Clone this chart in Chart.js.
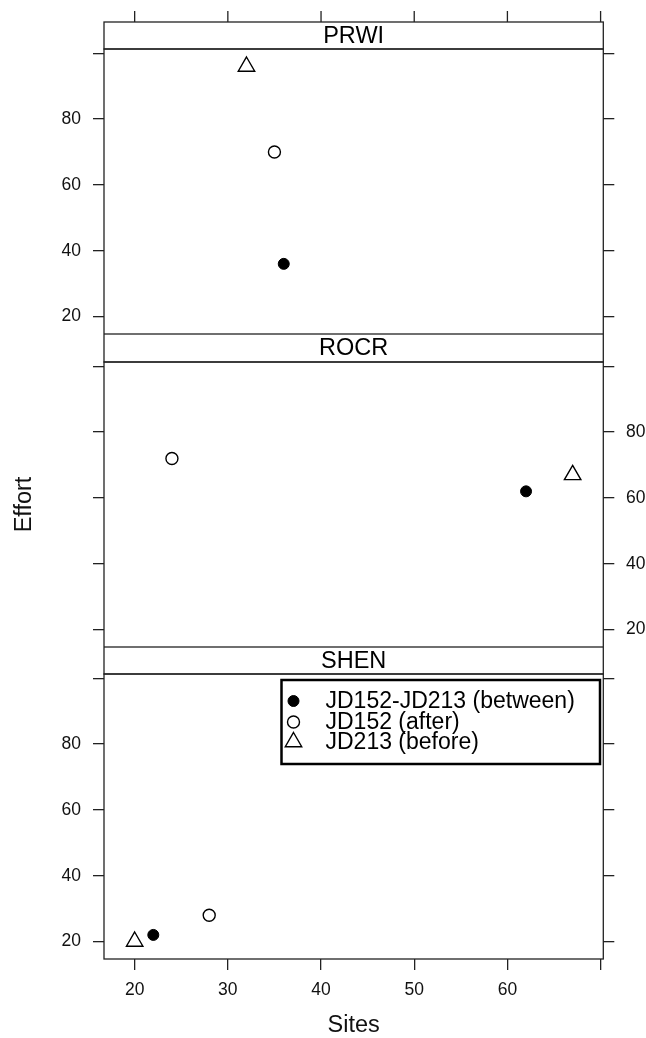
<!DOCTYPE html>
<html>
<head>
<meta charset="utf-8">
<script src="https://cdn.jsdelivr.net/npm/chart.js@4.4.0/dist/chart.umd.min.js"></script>
<style>
  body { margin: 0; background: #fff; }
  #wrap { position: relative; width: 646px; height: 1038px; }
  .panel { position: absolute; left: 0; width: 646px; }
</style>
</head>
<body>
<div id="wrap">
  <div class="panel" style="top:0;height:334px"><canvas id="c0"></canvas></div>
  <div class="panel" style="top:334px;height:313px"><canvas id="c1"></canvas></div>
  <div class="panel" style="top:647px;height:391px"><canvas id="c2"></canvas></div>
</div>
<script>
// panels (top to bottom) and series
const sites = ['PRWI', 'ROCR', 'SHEN'];
const seriesNames = ['JD152-JD213 (between)', 'JD152 (after)', 'JD213 (before)'];

// Sites (x) and Effort (y), one value per panel
const betweenX = [36, 62, 22];
const betweenY = [36, 62, 22];
const afterX = [35, 24, 28];
const afterY = [70, 72, 28];
const beforeX = [32, 67, 20];
const beforeY = [96, 67, 20];

const xTicks = [20, 30, 40, 50, 60, 70];
const xTickLabels = [20, 30, 40, 50, 60];
const yTicks = [20, 40, 60, 80, 100];
const yTickLabels = [20, 40, 60, 80];

const FONT = "'Liberation Sans', Arial, Helvetica, sans-serif";
const INK = '#222';
const BIG = 23.5;

// lattice style limits: data range padded by 7%
function padRange(a) {
  const lo = Math.min(...a), hi = Math.max(...a);
  const d = (hi - lo) * 0.07;
  return [lo - d, hi + d];
}
const xLim = padRange([...betweenX, ...afterX, ...beforeX]);
const yLim = padRange([...betweenY, ...afterY, ...beforeY]);

const styles = [
  { pointStyle: 'circle', radius: 5.5, bg: '#000', bw: 1 },
  { pointStyle: 'circle', radius: 6, bg: '#fff', bw: 1.4 },
  { pointStyle: 'triangle', radius: 9.5, bg: 'rgba(0,0,0,0)', bw: 1.4 }
];

function makeDatasets(i) {
  const xs = [betweenX, afterX, beforeX];
  const ys = [betweenY, afterY, beforeY];
  return seriesNames.map((name, k) => ({
    label: name,
    data: [{ x: xs[k][i], y: ys[k][i] }],
    pointStyle: styles[k].pointStyle,
    pointRadius: styles[k].radius,
    pointHoverRadius: styles[k].radius,
    pointBackgroundColor: styles[k].bg,
    pointBorderColor: '#000',
    pointBorderWidth: styles[k].bw,
    showLine: false
  }));
}

function gridOpts() {
  return { display: true, drawOnChartArea: false, drawTicks: true, tickLength: 11, color: INK, lineWidth: 1.3 };
}

function yAxis(pos, showLabels, title) {
  return {
    type: 'linear', position: pos, min: yLim[0], max: yLim[1],
    afterBuildTicks: s => { s.ticks = yTicks.map(v => ({ value: v })); },
    afterFit: s => {
      s.width = pos === 'left' ? 104 : 42.7;
      s.paddingTop = 0; s.paddingBottom = 0;
    },
    grid: gridOpts(),
    border: { display: false },
    ticks: {
      display: showLabels, autoSkip: false, color: '#111',
      padding: pos === 'left' ? 12 : 11.7,
      font: { family: FONT, size: 17.5 },
      callback: v => yTickLabels.includes(v) ? String(v) : ''
    },
    title: title ? { display: true, text: title, color: '#111', padding: { top: 13, bottom: 0 },
      font: { family: FONT, size: BIG, lineHeight: 1 } } : { display: false }
  };
}

// strip, panel frame, top ticks and key
const lattice = {
  id: 'lattice',
  afterDraw(chart, args, o) {
    const ctx = chart.ctx, ca = chart.chartArea, xs = chart.scales.x;
    ctx.save();
    ctx.strokeStyle = INK;
    ctx.lineWidth = 1.3;
    const sTop = ca.top - o.stripH;
    ctx.fillStyle = '#fff';
    ctx.fillRect(ca.left, sTop, ca.right - ca.left, o.stripH);
    ctx.strokeRect(ca.left, sTop, ca.right - ca.left, o.stripH);
    ctx.strokeRect(ca.left, ca.top, ca.right - ca.left, ca.bottom - ca.top);
    ctx.fillStyle = '#000';
    ctx.font = BIG + 'px ' + FONT;
    ctx.textAlign = 'center';
    ctx.textBaseline = 'middle';
    ctx.fillText(o.text, (ca.left + ca.right) / 2, sTop + o.stripH / 2 + 1);
    if (o.topTicks) {
      ctx.beginPath();
      xTicks.forEach(v => {
        const px = xs.getPixelForValue(v);
        ctx.moveTo(px, sTop);
        ctx.lineTo(px, sTop - 11);
      });
      ctx.stroke();
    }
    if (o.key) {
      const L = ca.left + 177.5, T = ca.top + 6, W = ca.right - 3.3 - L, H = 84;
      ctx.fillStyle = '#fff';
      ctx.fillRect(L, T, W, H);
      ctx.strokeStyle = '#000';
      ctx.lineWidth = 2.5;
      ctx.strokeRect(L, T, W, H);
      const rows = [21, 42, 62];
      chart.data.datasets.forEach((ds, k) => {
        const y = T + rows[k];
        ctx.fillStyle = ds.pointBackgroundColor;
        ctx.strokeStyle = '#000';
        ctx.lineWidth = ds.pointBorderWidth;
        Chart.helpers.drawPoint(ctx, { pointStyle: ds.pointStyle, radius: ds.pointRadius, borderWidth: ds.pointBorderWidth, rotation: 0 }, L + 12, y);
        ctx.fillStyle = '#000';
        ctx.textAlign = 'left';
        ctx.textBaseline = 'middle';
        ctx.font = '23px ' + FONT;
        ctx.fillText(ds.label, L + 44, y + 1);
      });
    }
    ctx.restore();
  }
};

const panels = [
  { id: 'c0', padTop: 49, stripH: 27, left: true, title: null, xAxis: false, topTicks: true, key: false },
  { id: 'c1', padTop: 28, stripH: 28, left: false, title: 'Effort', xAxis: false, topTicks: false, key: false },
  { id: 'c2', padTop: 27, stripH: 27, left: true, title: null, xAxis: true, topTicks: false, key: true }
];

panels.forEach((p, i) => {
  new Chart(document.getElementById(p.id), {
    type: 'scatter',
    data: { datasets: makeDatasets(i) },
    plugins: [lattice],
    options: {
      responsive: true,
      maintainAspectRatio: false,
      animation: false,
      events: [],
      layout: { autoPadding: false, padding: { top: p.padTop, left: 0, right: 0, bottom: 0 } },
      plugins: {
        legend: { display: false },
        tooltip: { enabled: false },
        lattice: { text: sites[i], stripH: p.stripH, topTicks: p.topTicks, key: p.key }
      },
      scales: {
        x: {
          type: 'linear', position: 'bottom', display: p.xAxis, min: xLim[0], max: xLim[1],
          afterBuildTicks: s => { s.ticks = xTicks.map(v => ({ value: v })); },
          afterFit: s => {
            s.height = p.xAxis ? 79 : 0;
            s.paddingLeft = 0; s.paddingRight = 0;
          },
          grid: gridOpts(),
          border: { display: false },
          ticks: {
            autoSkip: false, maxRotation: 0, color: '#111', padding: 9.5,
            font: { family: FONT, size: 17.5 },
            callback: v => xTickLabels.includes(v) ? String(v) : ''
          },
          title: { display: true, text: 'Sites', color: '#111', padding: { top: 0, bottom: 0.5 },
            font: { family: FONT, size: BIG, lineHeight: 1 } }
        },
        y: yAxis('left', p.left, p.title),
        y2: yAxis('right', !p.left, null)
      }
    }
  });
});
</script>
</body>
</html>
